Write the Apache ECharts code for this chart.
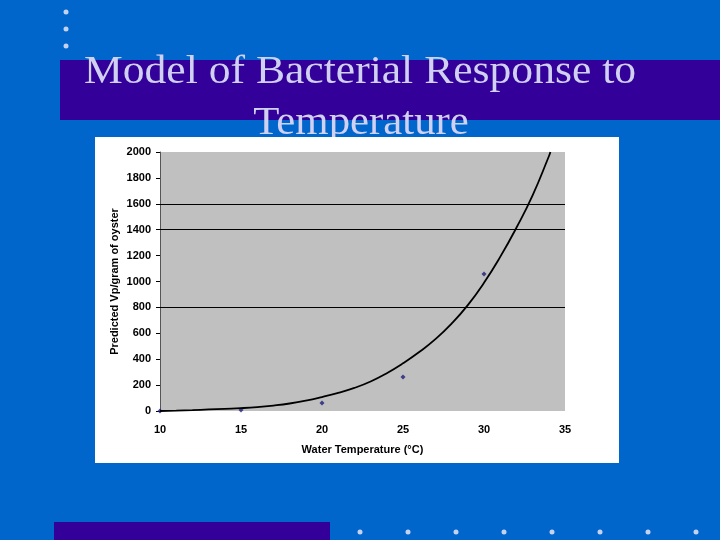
<!DOCTYPE html>
<html>
<head>
<meta charset="utf-8">
<script src="https://cdn.jsdelivr.net/npm/echarts@6/dist/echarts.min.js"></script>
<style>
  html, body { margin: 0; padding: 0; background: #0066cc; }
  #main { width: 720px; height: 540px; }
</style>
</head>
<body>
<div id="main"></div>
<script>
// measured points (Vp per gram) at each water temperature
var obsTemp = [10, 15, 20, 25, 30];
var obsVp = [0, 8, 62, 262, 1058];

// model curve
var fitTemp = [10, 11, 12, 13, 14, 15, 16, 17, 18, 19, 20, 21, 22, 23, 24, 25, 26, 27, 28, 29, 30, 31, 32, 33, 34, 34.1];
var fitVp = [0, 3, 7, 12, 17, 22, 30, 42, 58, 80, 108, 140, 178, 228, 292, 368, 455, 555, 675, 818, 990, 1190, 1415, 1665, 1965, 2000];

// only these grid lines show in the original
var gridLines = [800, 1400, 1600];

var titleLines = ['Model of Bacterial Response to', 'Temperature'];
var dotColor = '#c4d2f0';

var myChart = echarts.init(document.getElementById('main'));

var decor = [
    { type: 'rect', z: -5, shape: { x: 60, y: 60, width: 660, height: 60 }, style: { fill: '#330099' } },
    { type: 'rect', z: -5, shape: { x: 54, y: 522, width: 276, height: 18 }, style: { fill: '#330099' } },
    { type: 'text', z: -4, x: 360, y: 52, scaleX: 1.09,
      style: { text: titleLines[0], x: 0, y: 0, fill: '#d0d0f0', font: '40px "Liberation Serif", serif', textAlign: 'center', textVerticalAlign: 'top' } },
    { type: 'text', z: -4, x: 361, y: 103, scaleX: 1.07,
      style: { text: titleLines[1], x: 0, y: 0, fill: '#d0d0f0', font: '40px "Liberation Serif", serif', textAlign: 'center', textVerticalAlign: 'top' } },
    { type: 'rect', z: -3, shape: { x: 95, y: 137, width: 524, height: 326 }, style: { fill: '#ffffff' } }
];
[12, 29, 46].forEach(function (y) {
    decor.push({ type: 'circle', z: -4, shape: { cx: 66, cy: y, r: 2.5 }, style: { fill: dotColor } });
});
[360, 408, 456, 504, 552, 600, 648, 696].forEach(function (x) {
    decor.push({ type: 'circle', z: -4, shape: { cx: x, cy: 532, r: 2.5 }, style: { fill: dotColor } });
});

var labelFont = {
    color: '#000',
    fontFamily: '"Liberation Sans", Arial, sans-serif',
    fontWeight: 'bold',
    fontSize: 11
};

var option = {
    backgroundColor: '#0066cc',
    animation: false,
    graphic: decor,
    grid: {
        left: 160,
        top: 152,
        right: 155,
        bottom: 129,
        show: true,
        backgroundColor: '#c0c0c0',
        borderWidth: 0
    },
    xAxis: {
        type: 'value',
        min: 10,
        max: 35,
        interval: 5,
        name: 'Water Temperature (°C)',
        nameLocation: 'middle',
        nameGap: 33,
        nameTextStyle: labelFont,
        axisLine: { show: false },
        axisTick: { show: false },
        splitLine: { show: false },
        axisLabel: Object.assign({ margin: 13 }, labelFont)
    },
    yAxis: {
        type: 'value',
        min: 0,
        max: 2000,
        interval: 200,
        name: 'Predicted Vp/gram of oyster',
        nameLocation: 'middle',
        nameGap: 40,
        nameMoveOverlap: false,
        nameTextStyle: labelFont,
        axisLine: { show: true, lineStyle: { color: '#555', width: 1 } },
        axisTick: { show: true, length: 4, lineStyle: { color: '#000' } },
        splitLine: { show: false },
        axisLabel: Object.assign({ margin: 9, formatter: function (v) { return String(v); } }, labelFont)
    },
    series: [
        {
            type: 'line',
            data: fitTemp.map(function (t, i) { return [t, fitVp[i]]; }),
            smooth: true,
            showSymbol: false,
            lineStyle: { color: '#000', width: 1.8 },
            markLine: {
                silent: true,
                symbol: 'none',
                label: { show: false },
                lineStyle: { color: '#000', width: 1.2, type: 'solid' },
                data: gridLines.map(function (v) { return { yAxis: v }; })
            }
        },
        {
            type: 'scatter',
            data: obsTemp.map(function (t, i) { return [t, obsVp[i]]; }),
            symbol: 'diamond',
            symbolSize: 5,
            itemStyle: { color: '#1c1c7a' }
        }
    ]
};

myChart.setOption(option);
</script>
</body>
</html>
